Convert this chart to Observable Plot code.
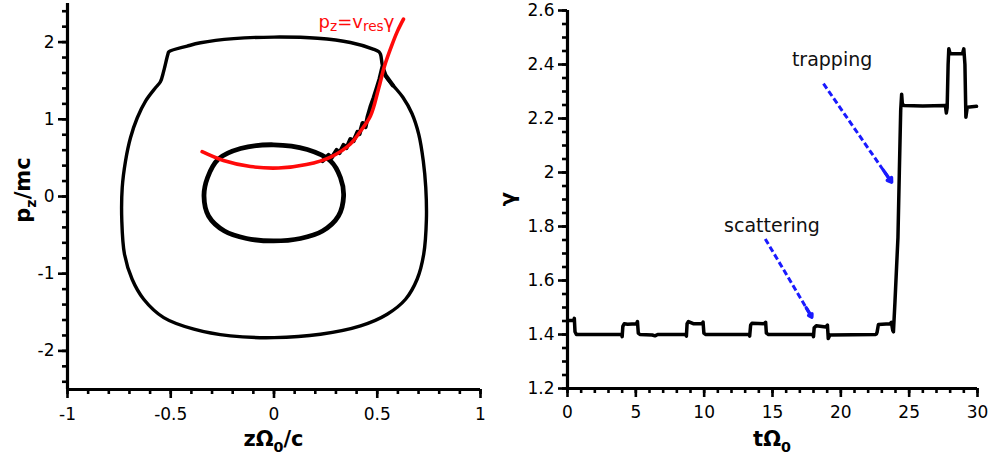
<!DOCTYPE html>
<html>
<head>
<meta charset="utf-8">
<script src="https://cdn.jsdelivr.net/npm/d3@7"></script>
<script src="https://cdn.jsdelivr.net/npm/@observablehq/plot@0.6"></script>
<style>
  body { margin: 0; background: #fff; }
  #wrap { position: relative; width: 990px; height: 458px; overflow: hidden; background: #fff; }
  #wrap > svg { position: absolute; top: 0; }
</style>
</head>
<body>
<div id="wrap"></div>
<script>
// ---------- Phase portrait (z, p_z) ----------
// outer orbit after trapping, traversed clockwise from the upper-left kink
const outerZ = [-0.509, -0.420, -0.356, -0.195, 0.000, 0.211, 0.370, 0.480, 0.508, 0.516, 0.524, 0.540, 0.580, 0.624, 0.668, 0.701, 0.723, 0.735, 0.738,
                0.725, 0.693, 0.637, 0.548, 0.419, 0.225, 0.000, -0.211, -0.388, -0.534, -0.631, -0.687, -0.724, -0.737,
                -0.735, -0.719, -0.695, -0.662, -0.622, -0.574, -0.550, -0.534, -0.514];
const outerP = [1.874, 1.948, 1.991, 2.045, 2.065, 2.050, 1.995, 1.910, 1.875, 1.841, 1.711, 1.560, 1.430, 1.285, 1.075, 0.805, 0.460, 0.114, -0.300,
                -0.748, -1.072, -1.331, -1.525, -1.676, -1.784, -1.828, -1.806, -1.719, -1.569, -1.331, -1.072, -0.748, -0.317,
                0.114, 0.460, 0.761, 1.020, 1.236, 1.408, 1.486, 1.625, 1.841];

// inner orbit before trapping
const innerZ = [-0.002, 0.161, 0.274, 0.322, 0.337, 0.312, 0.235, 0.128, -0.002, -0.133, -0.240, -0.317, -0.339, -0.322, -0.269, -0.162];
const innerP = [0.670, 0.608, 0.460, 0.243, 0.006, -0.252, -0.447, -0.544, -0.576, -0.544, -0.447, -0.252, 0.006, 0.243, 0.485, 0.621];

// trapped segment climbing along the resonance curve
const trapZ = [0.235, 0.264, 0.278, 0.303, 0.317, 0.337, 0.351, 0.370, 0.385, 0.404, 0.414, 0.429, 0.443, 0.453, 0.467, 0.482, 0.496, 0.511, 0.525, 0.540, 0.575];
const trapP = [0.460, 0.537, 0.498, 0.602, 0.563, 0.667, 0.628, 0.744, 0.718, 0.835, 0.809, 0.951, 0.900, 1.029, 1.159, 1.275, 1.392, 1.521, 1.676, 1.570, 1.440];

// resonance condition p_z = v_res * gamma
const resZ = [-0.348, -0.245, -0.114, 0.022, 0.157, 0.274, 0.370, 0.419, 0.467, 0.506, 0.535, 0.569, 0.598, 0.627];
const resP = [0.580, 0.466, 0.388, 0.369, 0.414, 0.511, 0.680, 0.848, 1.042, 1.392, 1.689, 1.948, 2.142, 2.298];
const resLabel = {z: 0.218, p: 2.18};

const zTicks = [-1, -0.5, 0, 0.5, 1];
const pTicks = [-2, -1, 0, 1, 2];

// ---------- Energy history gamma(t) ----------
const tVals = [0, 0.45, 0.5, 0.55, 0.65, 3.95, 4.0, 4.05, 4.15, 4.4, 5.05, 5.12, 5.18, 5.3, 6.2, 6.4, 6.6,
               8.65, 8.7, 8.75, 8.85, 9.2, 9.85, 9.92, 9.98, 10.1, 13.3, 13.33, 13.4, 13.5, 14.4, 14.5, 14.55, 14.7,
               17.95, 18.0, 18.05, 18.2, 18.9, 19.02, 19.08, 19.2, 22.55, 22.6, 22.65, 22.75, 23.6, 23.7, 23.8, 23.85,
               23.96, 24.18, 24.28, 24.38, 24.45, 24.5, 24.6, 26.0, 27.65, 27.72, 27.78, 27.85, 27.9, 28.0, 28.9, 29.0,
               29.08, 29.15, 29.25, 29.93];
const gVals = [1.452, 1.452, 1.46, 1.41, 1.40, 1.40, 1.392, 1.43, 1.44, 1.438, 1.44, 1.448, 1.405, 1.40, 1.398, 1.395, 1.40,
               1.40, 1.394, 1.44, 1.448, 1.44, 1.44, 1.446, 1.405, 1.40, 1.40, 1.394, 1.435, 1.442, 1.44, 1.445, 1.405, 1.40,
               1.40, 1.392, 1.425, 1.432, 1.428, 1.435, 1.385, 1.398, 1.40, 1.402, 1.408, 1.437, 1.44, 1.445, 1.415, 1.41,
               1.52, 1.76, 2.0, 2.23, 2.29, 2.255, 2.248, 2.246, 2.248, 2.22, 2.24, 2.40, 2.458, 2.44, 2.44, 2.458,
               2.40, 2.205, 2.242, 2.245];

const tTicks = [0, 5, 10, 15, 20, 25, 30];
const gTicks = [1.2, 1.4, 1.6, 1.8, 2, 2.2, 2.4, 2.6];

const notes = [
  {label: "trapping", t: 19.36, g: 2.393},
  {label: "scattering", t: 14.96, g: 1.780}
];
const pointers = [
  {t1: 18.73, g1: 2.329, t2: 23.72, g2: 1.964},
  {t1: 14.47, g1: 1.754, t2: 17.88, g2: 1.464}
];

// ---------- drawing ----------
const font = "'DejaVu Sans', Verdana, sans-serif";
const pts = (xs, ys, kx, ky) => xs.map((v, i) => ({[kx]: v, [ky]: ys[i]}));
const outer = pts(outerZ, outerP, "z", "p");
const inner = pts(innerZ, innerP, "z", "p");
const trap = pts(trapZ, trapP, "z", "p");
const res = pts(resZ, resP, "z", "p");
const gamma = pts(tVals, gVals, "t", "g");

const fmt = d => String(d);
const tickStyle = {strokeWidth: 2.6, stroke: "#000", fill: "#000", fontSize: 17, label: null};

const left = Plot.plot({
  width: 490, height: 458,
  marginLeft: 67, marginRight: 10, marginTop: 3, marginBottom: 69,
  x: {domain: [-1, 1]},
  y: {domain: [-2.5, 2.5]},
  style: {fontFamily: font, fontSize: "17px", color: "#000", background: "transparent", overflow: "visible"},
  marks: [
    Plot.axisX(d3.range(-10, 11).map(d => d / 10), {...tickStyle, tickSize: 5, tickFormat: () => ""}),
    Plot.axisX(zTicks, {...tickStyle, tickSize: 9, tickPadding: 9, tickFormat: fmt}),
    Plot.axisY(d3.range(-12, 13).map(d => d / 5), {...tickStyle, tickSize: 5, tickFormat: () => ""}),
    Plot.axisY(pTicks, {...tickStyle, tickSize: 9, tickPadding: 4, tickFormat: fmt}),
    Plot.ruleX([-1], {strokeWidth: 3.2}),
    Plot.ruleY([-2.5], {strokeWidth: 3.2}),
    Plot.line(outer, {x: "z", y: "p", curve: "catmull-rom-closed", stroke: "#000", strokeWidth: 3.4}),
    Plot.line(inner, {x: "z", y: "p", curve: "catmull-rom-closed", stroke: "#000", strokeWidth: 4.8}),
    Plot.line(trap, {x: "z", y: "p", curve: "linear", stroke: "#000", strokeWidth: 4.2, strokeLinejoin: "round"}),
    Plot.line(res, {x: "z", y: "p", curve: "catmull-rom", stroke: "#ff0a0a", strokeWidth: 3.6})
  ]
});

const right = Plot.plot({
  width: 500, height: 458,
  marginLeft: 77, marginRight: 13, marginTop: 10, marginBottom: 70,
  x: {domain: [0, 30]},
  y: {domain: [1.2, 2.6]},
  style: {fontFamily: font, fontSize: "17px", color: "#000", background: "transparent", overflow: "visible"},
  marks: [
    Plot.axisX(d3.range(0, 31), {...tickStyle, tickSize: 5, tickFormat: () => ""}),
    Plot.axisX(tTicks, {...tickStyle, tickSize: 9, tickPadding: 8, tickFormat: fmt}),
    Plot.axisY(d3.range(24, 53).map(d => d / 20), {...tickStyle, tickSize: 5, tickFormat: () => ""}),
    Plot.axisY(gTicks, {...tickStyle, tickSize: 9, tickPadding: 4, tickFormat: fmt}),
    Plot.ruleX([0], {strokeWidth: 3.2}),
    Plot.ruleY([1.2], {strokeWidth: 3.2}),
    Plot.line(gamma, {x: "t", y: "g", stroke: "#000", strokeWidth: 3.5, strokeLinejoin: "round"}),
    Plot.link(pointers, {x1: "t1", y1: "g1", x2: "t2", y2: "g2", stroke: "#1a1aff", strokeWidth: 3, strokeDasharray: "6,3", insetEnd: 6}),
    Plot.arrow(pointers, {
      x1: d => d.t2 - 0.12 * (d.t2 - d.t1), y1: d => d.g2 - 0.12 * (d.g2 - d.g1), x2: "t2", y2: "g2",
      stroke: "#1a1aff", strokeWidth: 3.4, headLength: 10, headAngle: 65
    }),
    Plot.text(notes, {x: "t", y: "g", text: "label", fontSize: 19, lineAnchor: "bottom", fill: "#111"})
  ]
});

const wrap = document.getElementById("wrap");
left.style.left = "0px";
right.style.left = "490px";
wrap.append(left, right);

// rich text with subscripts, positioned in pixel space of a plot's svg
function rich(svg, parts, {x, y, rotate = 0, size, weight = "normal", fill = "#000", anchor = "middle", subScale = 0.68, subDrop = 0.3}) {
  const t = d3.select(svg).append("text")
    .attr("transform", `translate(${x},${y}) rotate(${rotate})`)
    .attr("text-anchor", anchor)
    .attr("font-family", font)
    .attr("font-size", size)
    .attr("font-weight", weight)
    .attr("fill", fill);
  let shift = 0;
  for (const [s, sub] of parts) {
    const target = sub ? size * subDrop : 0;
    t.append("tspan").attr("dy", target - shift).attr("font-size", sub ? size * subScale : size).text(s);
    shift = target;
  }
}

const lx = left.scale("x"), ly = left.scale("y");
const rx = right.scale("x"), ry = right.scale("y");

rich(left, [["zΩ"], ["0", true], ["/c"]], {x: lx.apply(0), y: 446, size: 21, weight: "bold"});
rich(left, [["p"], ["z", true], ["/mc"]], {x: 30, y: ly.apply(0) - 6, rotate: -90, size: 21, weight: "bold"});
rich(left, [["p"], ["z", true], ["=v"], ["res", true], ["γ"]],
     {x: lx.apply(resLabel.z), y: ly.apply(resLabel.p), size: 18, fill: "#ff0a0a", anchor: "start", subScale: 0.76, subDrop: 0.2});

rich(right, [["tΩ"], ["0", true]], {x: rx.apply(15), y: 446, size: 21, weight: "bold"});
rich(right, [["γ"]], {x: 25, y: (ry.apply(1.2) + ry.apply(2.6)) / 2, rotate: -90, size: 21, weight: "bold"});
</script>
</body>
</html>
